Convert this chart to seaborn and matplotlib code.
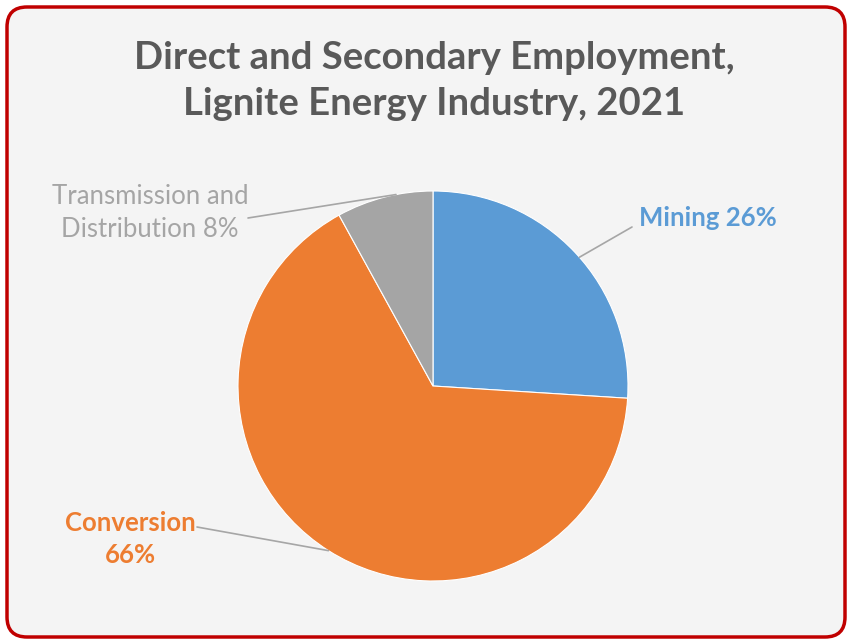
import matplotlib
matplotlib.use("Agg")
import matplotlib.pyplot as plt
import seaborn as sns
import numpy as np
from matplotlib.patches import FancyBboxPatch

# data
labels = ["Mining", "Conversion", "Transmission and\nDistribution"]
shares = [26, 66, 8]
colors = ["#5b9bd5", "#ed7d31", "#a5a5a5"]

sns.set_theme(style="white")
plt.rcParams["font.family"] = ["Lato", "DejaVu Sans"]

W, H = 848, 642
fig = plt.figure(figsize=(W / 100, H / 100), dpi=100)
ax = fig.add_axes([0, 0, 1, 1])

# rounded red frame with light fill
frame = FancyBboxPatch((7, 5), 838, 630, boxstyle="round,pad=0,rounding_size=20",
                       facecolor="#f4f4f4", edgecolor="#c00000", linewidth=2.5, zorder=0)
ax.add_patch(frame)

cx, cy, r = 433, 256, 195
wedges, _ = ax.pie(shares, colors=colors, radius=r, center=(cx, cy), startangle=90,
                   counterclock=False, wedgeprops=dict(edgecolor="white", linewidth=0.8),
                   frame=True)
ax.set_xlim(0, W)
ax.set_ylim(0, H)
ax.set_aspect("equal")
ax.axis("off")

# label placement (pixel coords) and where the leader line meets the wedge edge
label_pos = [(708, 424), (130, 103), (150, 429)]
line_from = [(632, 415), (197, 115), (248, 424)]
edge_frac = [0.48, 0.50, 0.38]
weights = ["bold", "bold", "normal"]

for w, lab, s, col, pos, lf, ef, fw in zip(wedges, labels, shares, colors,
                                           label_pos, line_from, edge_frac, weights):
    ang = np.deg2rad(w.theta1 + ef * (w.theta2 - w.theta1))
    ex, ey = cx + r * np.cos(ang), cy + r * np.sin(ang)
    txt = "Conversion\n66%" if lab == "Conversion" else f"{lab} {s}%"
    ax.text(pos[0], pos[1], txt, ha="center", va="center", fontsize=18.5,
            fontweight=fw, color=col, linespacing=1.4)
    ax.plot([lf[0], ex], [lf[1], ey], color="#a6a6a6", linewidth=1.2)

fig.text(434 / W, 1 - 81 / H, "Direct and Secondary Employment,\nLignite Energy Industry, 2021",
         ha="center", va="center", fontsize=27.5, fontweight="bold", color="#595959",
         linespacing=1.4)

fig.savefig("out.png", dpi=100)
